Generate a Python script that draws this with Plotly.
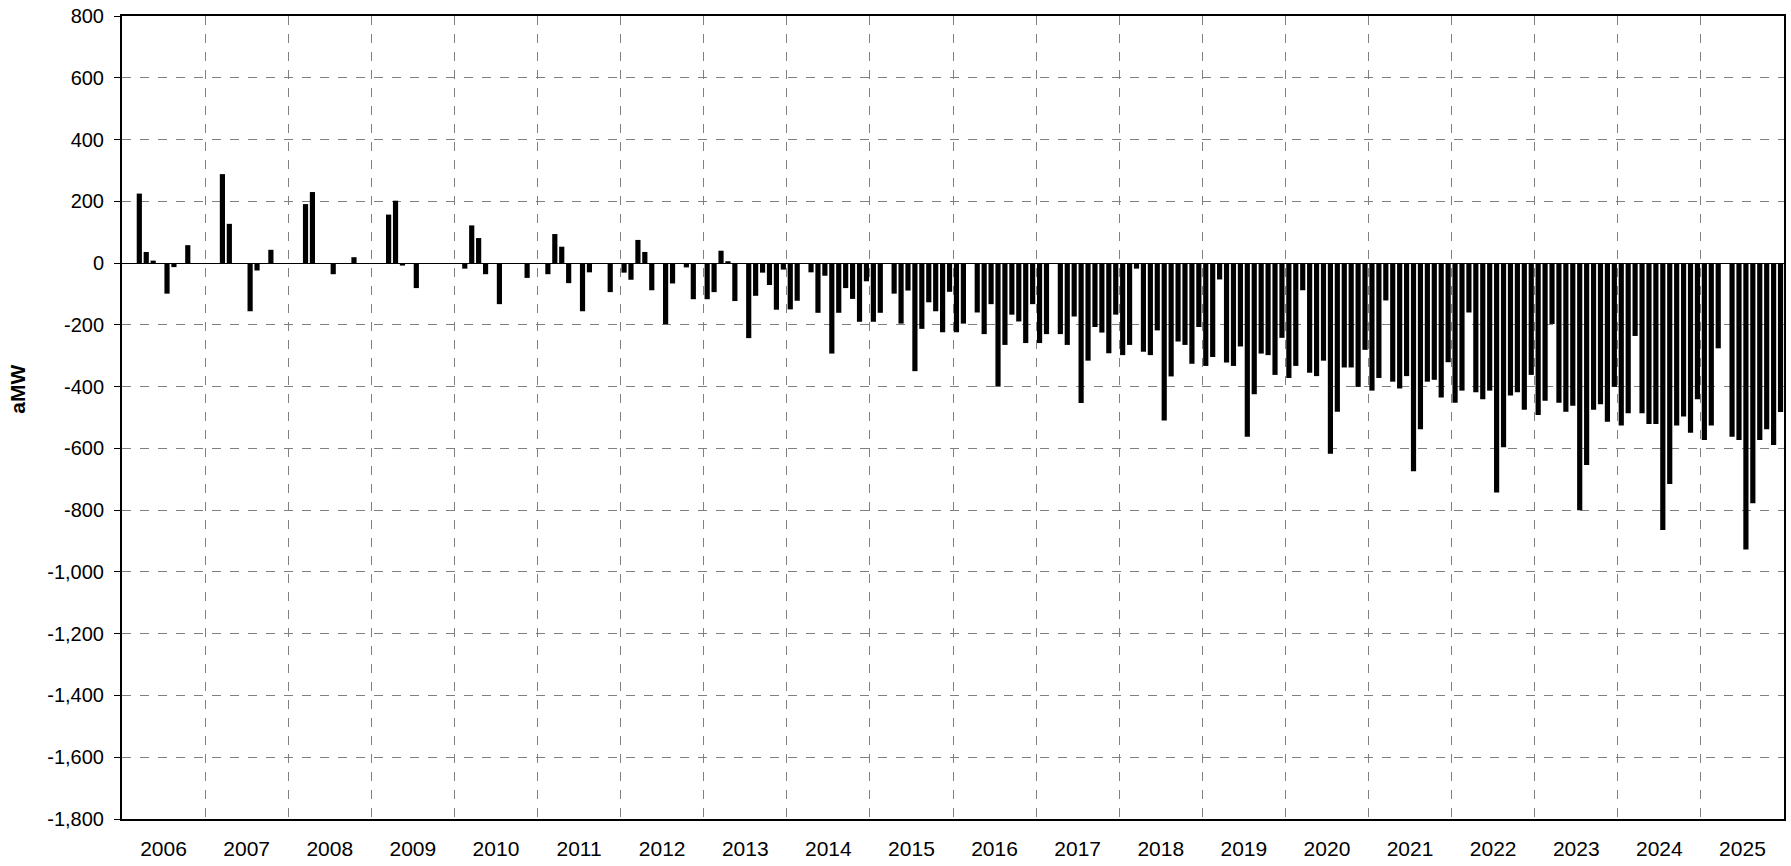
import plotly.graph_objects as go

N = None
years = list(range(2006, 2026))

# monthly values (aMW), Jan..Dec, None = no bar
y2006 = [N, N, 225, 36, 8, N, -99, -13, N, 58, N, N]
y2007 = [N, N, 288, 127, N, N, -156, -24, N, 43, N, N]
y2008 = [N, N, 191, 230, N, N, -36, N, N, 19, N, N]
y2009 = [N, N, 157, 202, -8, N, -81, N, N, N, N, N]
y2010 = [N, -18, 122, 81, -36, N, -133, N, N, N, -48, N]
y2011 = [N, -36, 94, 53, -65, N, -156, -30, N, N, -94, N]
y2012 = [-31, -54, 75, 36, -88, N, -198, -66, N, -14, -117, N]
y2013 = [-117, -94, 40, 6, -123, N, -243, -106, -31, -71, -151, -21]
y2014 = [-150, -122, N, -30, -161, -41, -293, -161, -81, -116, -190, -59]
y2015 = [-190, -161, N, -99, -196, -89, -350, -213, -127, -156, -224, -93]
y2016 = [-224, -196, N, -160, -230, -133, -400, -265, -167, -189, -259, -133]
y2017 = [-259, -230, N, -230, -265, -173, -453, -316, -207, -225, -292, -167]
y2018 = [-298, -265, -18, -287, -298, -218, -510, -367, -254, -265, -326, -207]
y2019 = [-333, -304, -53, -322, -333, -270, -562, -425, -293, -298, -362, -242]
y2020 = [-372, -333, -88, -355, -366, -316, -617, -481, -338, -338, -401, -281]
y2021 = [-413, -372, -121, -384, -406, -366, -674, -538, -384, -378, -435, -321]
y2022 = [-452, -413, -160, -418, -441, -413, -743, -596, -429, -418, -475, -362]
y2023 = [-492, -446, -197, -452, -481, -462, -800, -654, -475, -457, -514, -401]
y2024 = [-526, -486, -236, -486, -521, -521, -864, -715, -526, -497, -549, -441]
y2025 = [-573, -526, -276, N, -562, -573, -927, -778, -573, -538, -589, -482]

yticks = list(range(-1800, 801, 200))

monthly = [y2006, y2007, y2008, y2009, y2010, y2011, y2012, y2013, y2014, y2015,
           y2016, y2017, y2018, y2019, y2020, y2021, y2022, y2023, y2024, y2025]
values = [v for year in monthly for v in year]
x = list(range(len(values)))

fig = go.Figure(go.Bar(x=x, y=values, marker_color="black", marker_line_width=0, width=0.75))

fig.update_layout(width=1791, height=866,
                  margin=dict(l=122, r=7, t=16, b=47),
                  plot_bgcolor="white", paper_bgcolor="white",
                  font=dict(family="Liberation Sans, Arial", size=20, color="black"),
                  showlegend=False)

fig.update_xaxes(range=[-0.5, len(values) - 0.5],
                 tickvals=[12 * i + 5.5 for i in range(len(years))],
                 ticktext=[str(y) for y in years],
                 tickfont=dict(size=21),
                 ticks="", showgrid=False, zeroline=False, automargin=False,
                 ticklabelstandoff=10,
                 showline=True, linecolor="black", linewidth=1.5, mirror=True,
                 minor=dict(tick0=-0.5, dtick=12, showgrid=True, gridcolor="#808080",
                            griddash="dash", gridwidth=1, ticks=""))

fig.update_yaxes(range=[-1800, 800],
                 tickvals=yticks, ticktext=[f"{v:,}" for v in yticks],
                 ticks="outside", ticklen=6, tickcolor="black", tickwidth=1,
                 ticklabelstandoff=6, automargin=False,
                 showgrid=True, gridcolor="#808080", griddash="dash", gridwidth=1,
                 zeroline=True, zerolinecolor="black", zerolinewidth=1,
                 showline=True, linecolor="black", linewidth=2, mirror=True)

# y title, a little above the middle of the axis like the original
fig.add_annotation(text="<b>aMW</b>", textangle=-90,
                   xref="paper", yref="paper", x=-0.063, y=0.535,
                   xanchor="center", yanchor="middle", showarrow=False,
                   font=dict(size=21))

fig.write_html("out.html", config={"displayModeBar": False},
               post_script="document.body.style.margin='0';document.body.style.overflow='hidden';")
